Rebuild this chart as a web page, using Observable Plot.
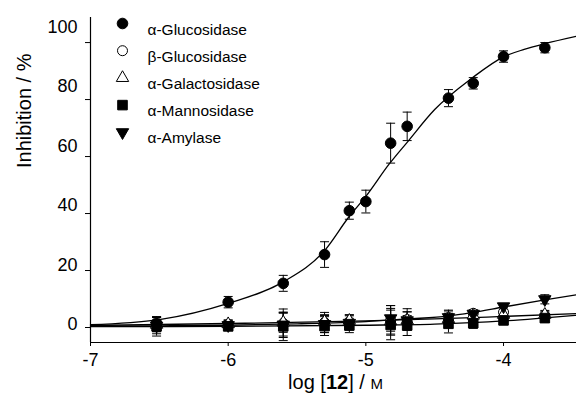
<!DOCTYPE html>
<html><head><meta charset="utf-8">
<script src="https://cdn.jsdelivr.net/npm/d3@7"></script>
<script src="https://cdn.jsdelivr.net/npm/@observablehq/plot@0.6"></script>
<style>
html,body{margin:0;padding:0;background:#fff;}
#chart svg{display:block;}
</style></head><body><div id="chart"></div>
<script>
// ---- data ----
const seriesNames = ["α-Glucosidase", "β-Glucosidase", "α-Galactosidase", "α-Mannosidase", "α-Amylase"];

const xGluc = [-6.52, -6.0, -5.6, -5.3, -5.12, -5.0, -4.82, -4.7, -4.4, -4.22, -4.0, -3.7];
const yGluc = [1.5, 8.9, 15.5, 25.6, 41.0, 44.2, 64.7, 70.6, 80.5, 85.7, 95.1, 98.2];
const eGluc = [2.0, 2.0, 2.8, 4.5, 3.0, 4.0, 7.0, 5.0, 3.0, 2.0, 2.0, 1.8];

const xOther = [-6.52, -6.0, -5.6, -5.3, -5.12, -4.82, -4.7, -4.4, -4.22, -4.0, -3.7];
const yBeta  = [0.8, 1.0, 1.5, 1.8, 2.0, 2.5, 2.8, 3.5, 5.0, 5.4, 4.2];
const eBeta  = [3.0, 1.5, 5.0, 3.5, 2.5, 5.2, 3.8, 2.6, 1.0, 1.5, 1.5];
const yGal   = [1.0, 1.2, 1.8, 2.0, 2.4, 2.2, 2.5, 3.0, 4.2, 4.5, 4.5];
const eGal   = [2.5, 1.5, 3.5, 2.5, 2.0, 4.5, 3.0, 2.0, 1.0, 1.0, 1.5];
const yMan   = [0.4, 0.4, 0.4, 0.5, 0.7, 0.9, 0.7, 1.3, 1.5, 2.5, 3.3];
const eMan   = [3.4, 1.5, 5.0, 3.3, 2.5, 5.2, 3.5, 3.2, 1.8, 1.5, 1.5];
const yAmy   = [0.6, 0.8, 1.0, 1.2, 1.6, 3.2, 2.5, 3.6, 4.8, 7.4, 9.9];
const eAmy   = [2.0, 1.5, 4.0, 3.0, 2.5, 4.5, 3.0, 2.2, 1.5, 1.0, 1.6];

// fitted curves
const fitGlucX = [-7, -6.5, -6, -5.6, -5.3, -5.125, -5, -4.83, -4.7, -4.5, -4.23, -4, -3.85, -3.7, -3.47];
const fitGlucY = [1.0, 2.8, 8.5, 16, 27, 38.7, 46, 57.4, 65, 76.5, 87.5, 95, 97.6, 99.6, 102.2];
const fitAmyX = [-7, -6.5, -6, -5.5, -5, -4.7, -4.4, -4.22, -4, -3.7, -3.47];
const fitAmyY = [0.5, 0.6, 0.8, 1.3, 2.1, 3.0, 4.0, 5.3, 7.2, 9.7, 11.5];
const fitBetaX = [-7, -6, -5, -4.5, -4, -3.47];
const fitBetaY = [0.7, 1.4, 2.3, 3.0, 3.9, 4.9];
const fitManX = [-7, -6, -5, -4.5, -4, -3.7, -3.47];
const fitManY = [0.3, 0.4, 0.8, 1.2, 2.3, 3.4, 4.3];

const xTicks = [-7, -6, -5, -4];
const yTicks = [0, 20, 40, 60, 80, 100];
const xDomain = [-7, -3.47];
const yDomain = [-5.26, 108.8];

// ---- build ----
const sqrt3 = Math.sqrt(3);
const triangleDown = {draw(ctx, size) {
  const y = -Math.sqrt(size / (sqrt3 * 3));
  ctx.moveTo(0, -y * 2); ctx.lineTo(-sqrt3 * y, y); ctx.lineTo(sqrt3 * y, y); ctx.closePath();
}};
const cap = {draw(ctx) { ctx.moveTo(-4.5, 0); ctx.lineTo(4.5, 0); }};

const table = (xs, ys, es) => xs.map((x, i) => ({x, y: ys[i], e: es[i]}));
const curve = (xs, ys) => xs.map((x, i) => ({x, y: ys[i]}));

const styles = [
  {symbol: "circle", fill: "black", stroke: "black", r: 5.3},
  {symbol: "circle", fill: "white", stroke: "black", r: 5.0},
  {symbol: "triangle", fill: "white", stroke: "black", r: 4.6},
  {symbol: "square", fill: "black", stroke: "black", r: 5.4},
  {symbol: triangleDown, fill: "black", stroke: "black", r: 4.6}
];
const data = [
  table(xGluc, yGluc, eGluc),
  table(xOther, yBeta, eBeta),
  table(xOther, yGal, eGal),
  table(xOther, yMan, eMan),
  table(xOther, yAmy, eAmy)
];
const drawOrder = [1, 2, 4, 3, 0];

const marks = [];
// axes lines
marks.push(Plot.ruleX([xDomain[0]], {stroke: "black", strokeWidth: 1.2}));
marks.push(Plot.ruleY([yDomain[0]], {stroke: "black", strokeWidth: 1.2}));
marks.push(Plot.axisX(xTicks, {tickSize: 4, tickPadding: 7, tickFormat: d => String(d), fontSize: 18, label: null}));
marks.push(Plot.axisY(yTicks, {tickSize: 5, tickFormat: () => "", label: null}));
for (const v of yTicks) {
  marks.push(Plot.text([v], {y: d => d, text: d => String(d), frameAnchor: "left", dx: -13, dy: -(3 + 0.125 * v), textAnchor: "end", fontSize: 18}));
}
// curves
for (const [xs, ys] of [[fitManX, fitManY], [fitBetaX, fitBetaY], [fitAmyX, fitAmyY], [fitGlucX, fitGlucY]]) {
  marks.push(Plot.line(curve(xs, ys), {x: "x", y: "y", curve: "monotone-x", stroke: "black", strokeWidth: 1.3}));
}
// error bars and points
for (const k of drawOrder) {
  const d = data[k];
  marks.push(Plot.ruleX(d, {x: "x", y1: p => p.y - p.e, y2: p => p.y + p.e, stroke: "black", strokeWidth: 1}));
  marks.push(Plot.dot(d, {x: "x", y: p => p.y + p.e, symbol: cap, fill: "none", stroke: "black", strokeWidth: 1}));
  marks.push(Plot.dot(d, {x: "x", y: p => p.y - p.e, symbol: cap, fill: "none", stroke: "black", strokeWidth: 1}));
}
for (const k of drawOrder) {
  const s = styles[k];
  marks.push(Plot.dot(data[k], {x: "x", y: "y", symbol: s.symbol, r: s.r, fill: s.fill, stroke: s.stroke, strokeWidth: 1}));
}
// legend
seriesNames.forEach((name, i) => {
  const s = styles[i];
  marks.push(Plot.dot([name], {frameAnchor: "top-left", dx: 32, dy: 6 + i * 27.2, symbol: s.symbol, r: s.r, fill: s.fill, stroke: s.stroke, strokeWidth: 1}));
  marks.push(Plot.text([name], {frameAnchor: "top-left", dx: 57, dy: 6 + i * 27.2, text: d => d, textAnchor: "start", fontSize: 15.5}));
});
// axis titles
marks.push(Plot.text(["Inhibition / %"], {frameAnchor: "left", dx: -66, dy: -12, rotate: -90, text: d => d, fontSize: 20}));
marks.push(Plot.text(["log [12] / M"], {frameAnchor: "bottom", dx: 2, dy: 46, text: d => d, fontSize: 20}));

const chart = Plot.plot({
  width: 576, height: 399,
  marginLeft: 90, marginRight: 0, marginTop: 17, marginBottom: 57,
  x: {domain: xDomain, axis: null},
  y: {domain: yDomain, axis: null},
  style: {fontFamily: "'Liberation Sans', Arial, Helvetica, sans-serif", color: "black", background: "white", overflow: "visible"},
  marks
});
document.getElementById("chart").appendChild(chart);

// rich formatting for the x title: bold "12", small-cap "M"
d3.select(chart).selectAll("text").filter(function() { return this.textContent === "log [12] / M"; }).each(function() {
  const t = d3.select(this);
  t.text(null);
  t.append("tspan").text("log [");
  t.append("tspan").attr("font-weight", "bold").text("12");
  t.append("tspan").text("] / ");
  t.append("tspan").attr("font-size", 15).text("M");
});
</script>
</body></html>
